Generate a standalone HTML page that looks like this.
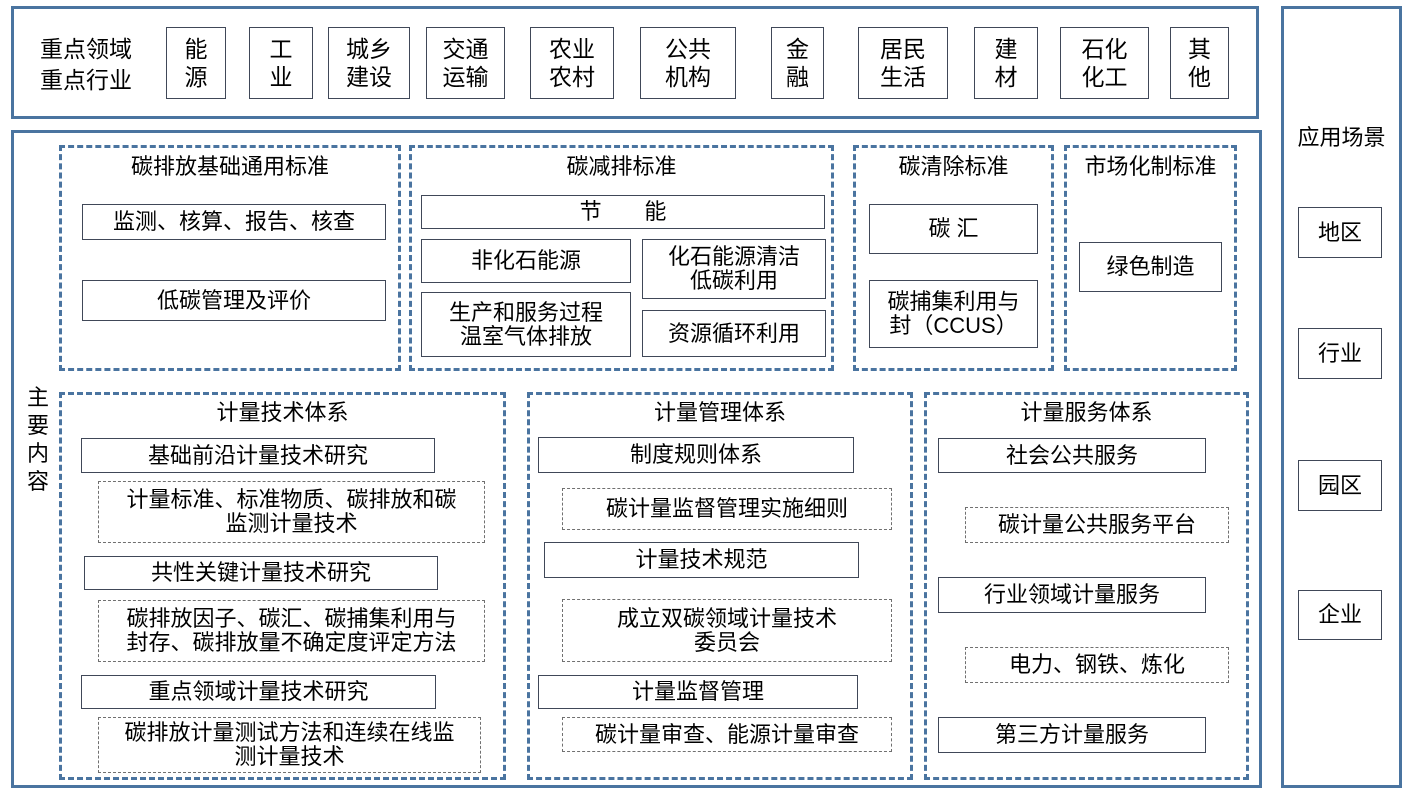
<!DOCTYPE html>
<html><head><meta charset="utf-8"><style>
body{margin:0;width:1408px;height:794px;background:#fff;position:relative;overflow:hidden;font-family:"Liberation Sans","Noto Sans CJK SC",sans-serif;color:#000}
div{position:absolute;box-sizing:border-box}
.o{border:3px solid #4a74a0}
.g{border:3px dashed #4a74a0}
.s{border:1.5px solid #404858;display:flex;align-items:center;justify-content:center;text-align:center;font-size:22px;line-height:24px}
.d{border:1.3px dashed #707070;display:flex;align-items:center;justify-content:center;text-align:center;font-size:22px;line-height:24px}
.t{font-size:22px;text-align:center;line-height:24px}
.top{font-size:23px;line-height:28px}
</style></head><body>
<div class="o" style="left:11px;top:6px;width:1248px;height:113px"></div>
<div class="o" style="left:1281px;top:6px;width:121px;height:782px"></div>
<div class="o" style="left:11px;top:130px;width:1251px;height:658px"></div>

<div style="left:40px;top:34px;font-size:23px;line-height:31px">重点领域<br>重点行业</div>
<div class="s top" style="left:166px;top:27px;width:60px;height:72px">能<br>源</div>
<div class="s top" style="left:249px;top:27px;width:64px;height:72px">工<br>业</div>
<div class="s top" style="left:328px;top:27px;width:82px;height:72px">城乡<br>建设</div>
<div class="s top" style="left:426px;top:27px;width:79px;height:72px">交通<br>运输</div>
<div class="s top" style="left:530px;top:27px;width:84px;height:72px">农业<br>农村</div>
<div class="s top" style="left:640px;top:27px;width:96px;height:72px">公共<br>机构</div>
<div class="s top" style="left:771px;top:27px;width:53px;height:72px">金<br>融</div>
<div class="s top" style="left:858px;top:27px;width:90px;height:72px">居民<br>生活</div>
<div class="s top" style="left:974px;top:27px;width:64px;height:72px">建<br>材</div>
<div class="s top" style="left:1060px;top:27px;width:89px;height:72px">石化<br>化工</div>
<div class="s top" style="left:1170px;top:27px;width:59px;height:72px">其<br>他</div>

<div class="t" style="left:1281px;top:126px;width:121px">应用场景</div>
<div class="s" style="left:1298px;top:207px;width:84px;height:51px">地区</div>
<div class="s" style="left:1298px;top:328px;width:84px;height:51px">行业</div>
<div class="s" style="left:1298px;top:460px;width:84px;height:51px">园区</div>
<div class="s" style="left:1298px;top:590px;width:84px;height:50px">企业</div>

<div style="left:25px;top:384px;width:26px;font-size:22px;line-height:28px;text-align:center">主<br>要<br>内<br>容</div>

<div class="g" style="left:59px;top:145px;width:342px;height:226px"></div>
<div class="t" style="left:59px;top:155px;width:342px">碳排放基础通用标准</div>
<div class="s" style="left:82px;top:204px;width:304px;height:36px">监测、核算、报告、核查</div>
<div class="s" style="left:82px;top:280px;width:304px;height:41px">低碳管理及评价</div>

<div class="g" style="left:409px;top:145px;width:425px;height:226px"></div>
<div class="t" style="left:409px;top:155px;width:425px">碳减排标准</div>
<div class="s" style="left:421px;top:195px;width:404px;height:34px">节&nbsp;&nbsp;&nbsp;&nbsp;&nbsp;&nbsp;&nbsp;能</div>
<div class="s" style="left:421px;top:239px;width:210px;height:44px">非化石能源</div>
<div class="s" style="left:642px;top:239px;width:184px;height:60px">化石能源清洁<br>低碳利用</div>
<div class="s" style="left:421px;top:292px;width:210px;height:65px">生产和服务过程<br>温室气体排放</div>
<div class="s" style="left:642px;top:310px;width:184px;height:47px">资源循环利用</div>

<div class="g" style="left:853px;top:145px;width:201px;height:226px"></div>
<div class="t" style="left:853px;top:155px;width:201px">碳清除标准</div>
<div class="s" style="left:869px;top:204px;width:169px;height:50px">碳&nbsp;汇</div>
<div class="s" style="left:869px;top:280px;width:169px;height:68px">碳捕集利用与<br>封（CCUS）</div>

<div class="g" style="left:1064px;top:145px;width:173px;height:226px"></div>
<div class="t" style="left:1064px;top:155px;width:173px">市场化制标准</div>
<div class="s" style="left:1079px;top:242px;width:143px;height:50px">绿色制造</div>

<div class="g" style="left:59px;top:392px;width:447px;height:388px"></div>
<div class="t" style="left:59px;top:401px;width:447px">计量技术体系</div>
<div class="s" style="left:81px;top:438px;width:354px;height:35px">基础前沿计量技术研究</div>
<div class="d" style="left:98px;top:481px;width:387px;height:62px">计量标准、标准物质、碳排放和碳<br>监测计量技术</div>
<div class="s" style="left:84px;top:556px;width:354px;height:34px">共性关键计量技术研究</div>
<div class="d" style="left:98px;top:600px;width:387px;height:62px">碳排放因子、碳汇、碳捕集利用与<br>封存、碳排放量不确定度评定方法</div>
<div class="s" style="left:81px;top:675px;width:355px;height:34px">重点领域计量技术研究</div>
<div class="d" style="left:98px;top:717px;width:383px;height:56px">碳排放计量测试方法和连续在线监<br>测计量技术</div>

<div class="g" style="left:527px;top:392px;width:386px;height:388px"></div>
<div class="t" style="left:527px;top:401px;width:386px">计量管理体系</div>
<div class="s" style="left:538px;top:437px;width:316px;height:36px">制度规则体系</div>
<div class="d" style="left:562px;top:488px;width:330px;height:42px">碳计量监督管理实施细则</div>
<div class="s" style="left:544px;top:542px;width:315px;height:36px">计量技术规范</div>
<div class="d" style="left:562px;top:599px;width:330px;height:63px">成立双碳领域计量技术<br>委员会</div>
<div class="s" style="left:538px;top:675px;width:320px;height:34px">计量监督管理</div>
<div class="d" style="left:562px;top:717px;width:330px;height:35px">碳计量审查、能源计量审查</div>

<div class="g" style="left:924px;top:392px;width:325px;height:388px"></div>
<div class="t" style="left:924px;top:401px;width:325px">计量服务体系</div>
<div class="s" style="left:938px;top:438px;width:268px;height:35px">社会公共服务</div>
<div class="d" style="left:965px;top:507px;width:264px;height:36px">碳计量公共服务平台</div>
<div class="s" style="left:938px;top:577px;width:268px;height:36px">行业领域计量服务</div>
<div class="d" style="left:965px;top:647px;width:264px;height:36px">电力、钢铁、炼化</div>
<div class="s" style="left:938px;top:717px;width:268px;height:36px">第三方计量服务</div>
</body></html>
